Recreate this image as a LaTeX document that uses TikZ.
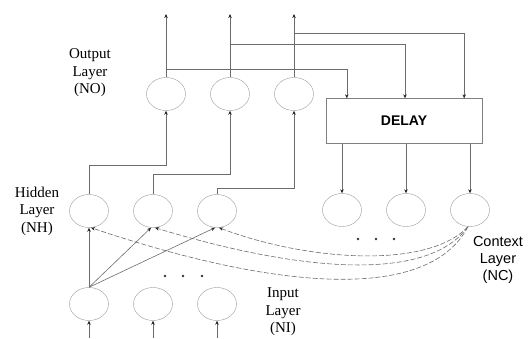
\documentclass[tikz,border=0pt]{standalone}
\usepackage{fontspec}
\setmainfont{Liberation Serif}
\setsansfont{Liberation Sans}
\usetikzlibrary{shapes.geometric, positioning, arrows.meta}

\begin{document}
\begin{tikzpicture}[
    x=1pt, y=-1pt,
    >={Stealth[length=4pt,width=3.5pt,color=black!85]},
    node distance=64pt,
    on grid,
    neuron/.style={
        draw=gray!80,
        ellipse,
        minimum width=39pt,
        minimum height=33pt,
        inner sep=0pt
    },
    delaybox/.style={
        draw=gray,
        rectangle,
        minimum width=156pt,
        minimum height=45pt,
        font=\sffamily\bfseries\fontsize{14}{16}\selectfont
    },
    wire/.style={draw=gray!85!black, line width=0.6pt},
    feedback/.style={wire, dash pattern=on 5pt off 2pt},
    layerlabel/.style={align=center, font=\fontsize{15}{17.5}\selectfont}
]
\useasboundingbox (0,0) rectangle (528,338);

\node[neuron] (h1) at (89,211) {};
\node[neuron, right=of h1] (h2) {};
\node[neuron, right=of h2] (h3) {};

\node[neuron, below=93pt of h1] (i1) {};
\node[neuron, right=of i1] (i2) {};
\node[neuron, right=of i2] (i3) {};

\node[neuron] (o1) at (166,94) {};
\node[neuron, right=of o1] (o2) {};
\node[neuron, right=of o2] (o3) {};

\node[delaybox] (delay) at (404,121) {DELAY};

\node[neuron] (c1) at (342,210) {};
\node[neuron, right=of c1] (c2) {};
\node[neuron, right=of c2] (c3) {};

\node[layerlabel] (outlab) at (90,73) {Output\\Layer\\(NO)};
\node[layerlabel] (hidlab) at (37,211) {Hidden\\Layer\\(NH)};
\node[layerlabel] (inlab) at (283,312) {Input\\Layer\\(NI)};
\node[layerlabel, font=\sffamily\fontsize{14.5}{17}\selectfont] (ctxlab) at (498,260) {Context\\Layer\\(NC)};

% outputs, inputs and delay lines
\foreach \n in {1,2,3} {
    \coordinate (out\n) at (o\n |- 0,14);
    \draw[wire,->] (o\n.north) -- (out\n);
    \coordinate (feed\n) at (i\n |- 0,338);
    \draw[wire,->] (feed\n) -- (i\n.south);
    \draw[wire,->] (delay.south -| c\n) -- (c\n.north);
}

\draw[wire,->] (o1 |- 0,69) -| ([xshift=21pt]delay.north west);
\draw[wire,->] (o2 |- 0,44) -| ([xshift=1pt]delay.north);
\draw[wire,->] (o3 |- 0,33) -| ([xshift=-18pt]delay.north east);

% hidden to output
\draw[wire,->] (h1.north) -- (h1 |- 0,165) -| (o1.south);
\draw[wire,->] (h2.north) -- (h2 |- 0,174) -| (o2.south);
\draw[wire,->] (h3.north) -- (h3 |- 0,188) -| (o3.south);

% input to hidden
\draw[wire,->] (i1.north) -- (h1.south);
\draw[wire,->] (i1.north) -- ([xshift=-2pt]h2.south);
\draw[wire,->] (i1.north) -- ([xshift=-2pt]h3.south);

% context to hidden
\draw[feedback,->] ([xshift=-2pt]c3.south) .. controls +(-42,80) and +(172,58) .. ([xshift=2pt]h1.south);
\draw[feedback,->] ([xshift=-2pt]c3.south) .. controls +(-42,58) and +(138,42) .. ([xshift=2pt]h2.south);
\draw[feedback,->] ([xshift=-2pt]c3.south) .. controls +(-42,44) and +(84,32) .. ([xshift=2pt]h3.south);

\foreach \x in {165,183,202} \fill[black!80] (\x,276) circle (1.4pt);
\foreach \x in {358,376,394} \fill[black!80] (\x,239) circle (1.4pt);

\end{tikzpicture}
\end{document}
